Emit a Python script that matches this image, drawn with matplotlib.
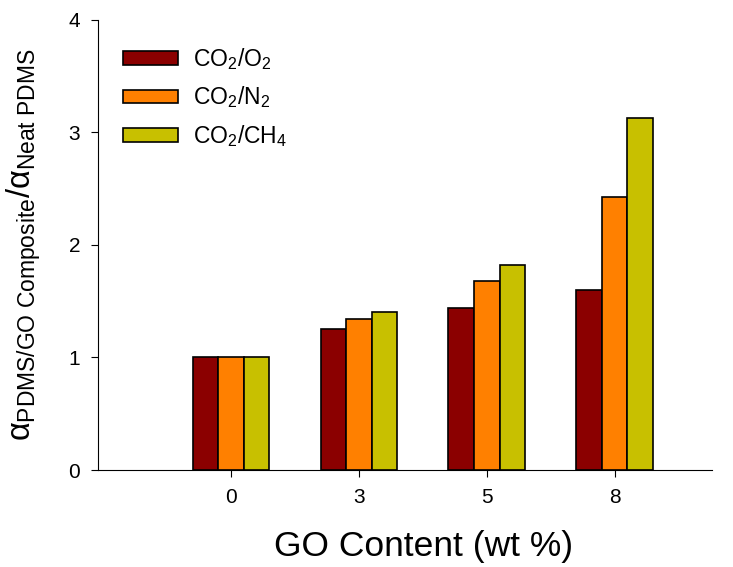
import numpy as np
import matplotlib
matplotlib.use("Agg")
import matplotlib.pyplot as plt

plt.rcParams["font.family"] = ["Liberation Sans", "DejaVu Sans"]
plt.rcParams["mathtext.fontset"] = "custom"
plt.rcParams["mathtext.rm"] = "Liberation Sans"
plt.rcParams["mathtext.it"] = "Liberation Sans"

go_content = ["0", "3", "5", "8"]
co2_o2 = [1.00, 1.25, 1.44, 1.60]
co2_n2 = [1.00, 1.34, 1.68, 2.43]
co2_ch4 = [1.00, 1.40, 1.82, 3.13]

series = [
    (co2_o2, "#8B0000", r"CO$_2$/O$_2$"),
    (co2_n2, "#FF8000", r"CO$_2$/N$_2$"),
    (co2_ch4, "#C8C000", r"CO$_2$/CH$_4$"),
]

fig = plt.figure(figsize=(7.33, 5.67), dpi=100)
ax = fig.add_axes([0.134, 0.171, 0.837, 0.794])

x = np.arange(len(go_content))
w = 0.2
for i, (vals, col, lab) in enumerate(series):
    ax.bar(x + (i - 1) * w, vals, w, color=col, edgecolor="black", linewidth=1.2, label=lab)

ax.set_xlim(-1.04, 3.76)
ax.set_ylim(0, 4)
ax.set_yticks([0, 1, 2, 3, 4])
ax.set_xticks(x)
ax.set_xticklabels(go_content)
ax.tick_params(axis="both", labelsize=15, direction="out", length=5, pad=8)
ax.spines["top"].set_visible(False)
ax.spines["right"].set_visible(False)
ax.set_xlabel("GO Content (wt %)", fontsize=25.5)
ax.xaxis.set_label_coords(0.53, -0.133)
ax.set_ylabel(r"$\alpha_{\mathrm{PDMS/GO\ Composite}}/\alpha_{\mathrm{Neat\ PDMS}}$", fontsize=23.5)
ax.yaxis.set_label_coords(-0.09, 0.5)

ax.legend(loc="upper left", bbox_to_anchor=(0.04, 0.942), frameon=False, fontsize=16.5,
          borderaxespad=0, borderpad=0, handlelength=2.4, handleheight=0.52,
          handletextpad=0.65, labelspacing=0.55)

fig.savefig("out.png", dpi=100)
